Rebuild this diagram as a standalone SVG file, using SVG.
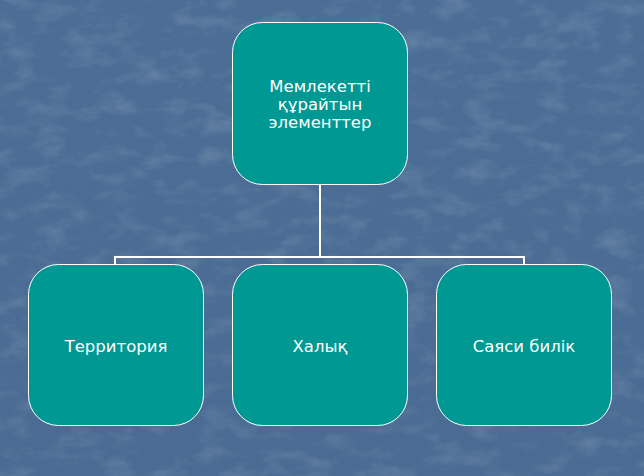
<svg xmlns="http://www.w3.org/2000/svg" width="644" height="476" viewBox="0 0 644 476">
  <defs>
    <filter id="tex" x="0" y="0" width="100%" height="100%">
      <feTurbulence type="fractalNoise" baseFrequency="0.03 0.06" numOctaves="4" seed="7" result="n"/>
      <feColorMatrix in="n" type="matrix" values="0 0 0 0 1  0 0 0 0 1  0 0 0 0 1  0 0 0 1.4 -0.65" result="w"/>
      <feComposite in="w" in2="SourceGraphic" operator="in"/>
    </filter>
    <linearGradient id="bg" x1="0" y1="0" x2="0" y2="1">
      <stop offset="0" stop-color="#4c6e96"/>
      <stop offset="1" stop-color="#4a6b93"/>
    </linearGradient>
  </defs>
  <style>
    .node { fill: #009893; stroke: #ffffff; stroke-width: 1; }
    .lbl { font-family: "DejaVu Sans", Verdana, sans-serif; font-size: 16.5px; fill: #ffffff; text-anchor: middle; }
    .conn { fill: none; stroke: #ffffff; stroke-width: 2; }
  </style>
  <rect width="644" height="476" fill="url(#bg)"/>
  <rect width="644" height="476" fill="#7f9cbd" filter="url(#tex)" opacity="0.2"/>

  <g id="connectors">
    <path class="conn" d="M320 184 V257 M115 264 V257 H524 V264"/>
  </g>

  <g id="node-root">
    <rect class="node" x="232.5" y="22.5" width="175" height="162" rx="30"/>
    <text class="lbl" x="320" y="92">Мемлекетті</text>
    <text class="lbl" x="320" y="110">құрайтын</text>
    <text class="lbl" x="320" y="128">элементтер</text>
  </g>

  <g id="node-territory">
    <rect class="node" x="28.5" y="264.5" width="175" height="161" rx="30"/>
    <text class="lbl" x="116" y="352">Территория</text>
  </g>

  <g id="node-halyk">
    <rect class="node" x="232.5" y="264.5" width="175" height="161" rx="30"/>
    <text class="lbl" x="320" y="352">Халық</text>
  </g>

  <g id="node-bilik">
    <rect class="node" x="436.5" y="264.5" width="175" height="161" rx="30"/>
    <text class="lbl" x="524" y="352">Саяси билік</text>
  </g>
</svg>
